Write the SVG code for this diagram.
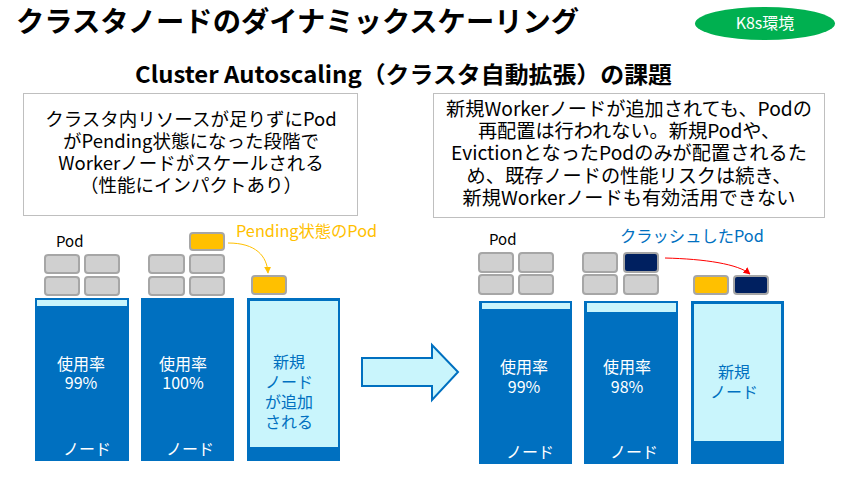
<svg xmlns="http://www.w3.org/2000/svg" width="850" height="478" viewBox="0 0 850 478">
<style>
text{font-family:"Noto Sans CJK JP","Noto Sans",sans-serif}
.title{font-size:28.3px;font-weight:700;fill:#000}
.sub{font-size:23px;font-weight:700;fill:#000}
.box{fill:#fff;stroke:#BFBFBF;stroke-width:1}
.bt{font-size:18.5px;fill:#000;text-anchor:middle}
.bt2{font-size:19.2px;fill:#000;text-anchor:middle}
.node{fill:#0070C0}
.newin{fill:#C9F5FC}
.strip{fill:#C9F5FC}
.wt{font-size:16px;fill:#fff;text-anchor:middle}
.bl{font-size:16px;fill:#0070C0;text-anchor:middle}
.pod{fill:#D0D0D0;stroke:#A6A6A6;stroke-width:2}
.pend{fill:#FFC000;stroke:#A6A6A6;stroke-width:2}
.crash{fill:#002060;stroke:#A6A6A6;stroke-width:2}
.lbl{font-size:15px;fill:#000}
</style>
<defs>
<marker id="ao" viewBox="0 0 10 10" refX="9" refY="5" markerWidth="7" markerHeight="7" orient="auto"><path d="M0,0 L10,5 L0,10 z" fill="#FFC000"/></marker>
<marker id="ar" viewBox="0 0 10 10" refX="9" refY="5" markerWidth="7" markerHeight="7" orient="auto"><path d="M0,0 L10,5 L0,10 z" fill="#FF0000"/></marker>
</defs>

<text class="title" x="16" y="32">クラスタノードのダイナミックスケーリング</text>
<g id="env">
<ellipse cx="765" cy="23.5" rx="70" ry="16.5" fill="#00B050"/>
<text x="765" y="29" font-size="16" fill="#fff" text-anchor="middle">K8s環境</text>
</g>
<text class="sub" x="135" y="83" textLength="537" lengthAdjust="spacingAndGlyphs">Cluster Autoscaling（クラスタ自動拡張）の課題</text>

<g id="leftbox">
<rect class="box" x="23.5" y="93.5" width="334" height="122"/>
<text class="bt"><tspan x="191" y="126">クラスタ内リソースが足りずにPod</tspan><tspan x="191" y="148">がPending状態になった段階で</tspan><tspan x="191" y="170">Workerノードがスケールされる</tspan><tspan x="191" y="192">（性能にインパクトあり）</tspan></text>
</g>
<g id="rightbox">
<rect class="box" x="433.5" y="93.5" width="391" height="124"/>
<text class="bt2"><tspan x="629" y="116">新規Workerノードが追加されても、Podの</tspan><tspan x="629" y="138">再配置は行われない。新規Podや、</tspan><tspan x="629" y="160">EvictionとなったPodのみが配置されるた</tspan><tspan x="629" y="183">め、既存ノードの性能リスクは続き、</tspan><tspan x="629" y="205">新規Workerノードも有効活用できない</tspan></text>
</g>

<g id="node1">
<rect class="node" x="35" y="298" width="94" height="163"/>
<rect class="strip" x="37" y="300" width="90" height="6"/>
<text class="wt"><tspan x="81" y="370">使用率</tspan><tspan x="81" y="389">99%</tspan></text>
<text class="wt" x="87" y="455">ノード</text>
<text class="lbl" x="56" y="247">Pod</text>
<rect class="pod" x="45" y="255" width="34" height="18" rx="3"/>
<rect class="pod" x="85" y="255" width="34" height="18" rx="3"/>
<rect class="pod" x="45" y="277" width="34" height="18" rx="3"/>
<rect class="pod" x="85" y="277" width="34" height="18" rx="3"/>
</g>
<g id="node2">
<rect class="node" x="141" y="298" width="93" height="163"/>
<text class="wt"><tspan x="183" y="370">使用率</tspan><tspan x="183" y="389">100%</tspan></text>
<text class="wt" x="190" y="455">ノード</text>
<rect class="pend" x="190" y="233" width="34" height="17" rx="3"/>
<rect class="pod" x="149" y="255" width="35" height="18" rx="3"/>
<rect class="pod" x="190" y="255" width="34" height="18" rx="3"/>
<rect class="pod" x="149" y="277" width="35" height="18" rx="3"/>
<rect class="pod" x="190" y="277" width="34" height="18" rx="3"/>
</g>
<g id="node3">
<rect class="node" x="247" y="298" width="93" height="163"/>
<rect class="newin" x="250" y="301" width="88" height="146"/>
<text class="bl"><tspan x="289" y="368">新規</tspan><tspan x="289" y="388">ノード</tspan><tspan x="289" y="408">が追加</tspan><tspan x="289" y="428">される</tspan></text>
<rect class="pend" x="252" y="276" width="34" height="18" rx="3"/>
<text x="236" y="237" font-size="16.3" fill="#FFC000">Pending状態のPod</text>
</g>

<g id="bigarrow">
<polygon points="362,358 432,358 432,345 458,372 432,400 432,386 362,386" fill="#C9F5FC" stroke="#0070C0" stroke-width="2"/>
</g>

<g id="node4">
<rect class="node" x="479" y="301" width="93" height="163"/>
<rect class="strip" x="482" y="303" width="88" height="6"/>
<text class="wt"><tspan x="524" y="373">使用率</tspan><tspan x="524" y="393">99%</tspan></text>
<text class="wt" x="530" y="458">ノード</text>
<text class="lbl" x="489" y="245">Pod</text>
<rect class="pod" x="479" y="253" width="34" height="19" rx="3"/>
<rect class="pod" x="519" y="253" width="34" height="19" rx="3"/>
<rect class="pod" x="479" y="275" width="34" height="19" rx="3"/>
<rect class="pod" x="519" y="275" width="34" height="19" rx="3"/>
</g>
<g id="node5">
<rect class="node" x="584" y="301" width="94" height="163"/>
<rect class="strip" x="587" y="303" width="89" height="9"/>
<text class="wt"><tspan x="627" y="373">使用率</tspan><tspan x="627" y="393">98%</tspan></text>
<text class="wt" x="634" y="458">ノード</text>
<rect class="pod" x="583" y="253" width="34" height="19" rx="3"/>
<rect class="crash" x="624" y="253" width="34" height="19" rx="3"/>
<rect class="pod" x="583" y="275" width="34" height="19" rx="3"/>
<rect class="pod" x="624" y="275" width="34" height="19" rx="3"/>
<text x="620" y="242" font-size="16.3" fill="#0070C0">クラッシュしたPod</text>
</g>
<g id="node6">
<rect class="node" x="691" y="301" width="93" height="163"/>
<rect class="newin" x="694" y="304" width="87" height="137"/>
<text class="bl"><tspan x="734" y="378">新規</tspan><tspan x="734" y="398">ノード</tspan></text>
<rect class="pend" x="694" y="276" width="34" height="18" rx="3"/>
<rect class="crash" x="734" y="276" width="34" height="18" rx="3"/>
</g>

<g id="connectors">
<path d="M228,243 C256,243 267,256 268,273" fill="none" stroke="#FFC000" stroke-width="1" marker-end="url(#ao)"/>
<path d="M665,258 C705,259 738,264 750,274" fill="none" stroke="#FF0000" stroke-width="1" marker-end="url(#ar)"/>
</g>
</svg>
